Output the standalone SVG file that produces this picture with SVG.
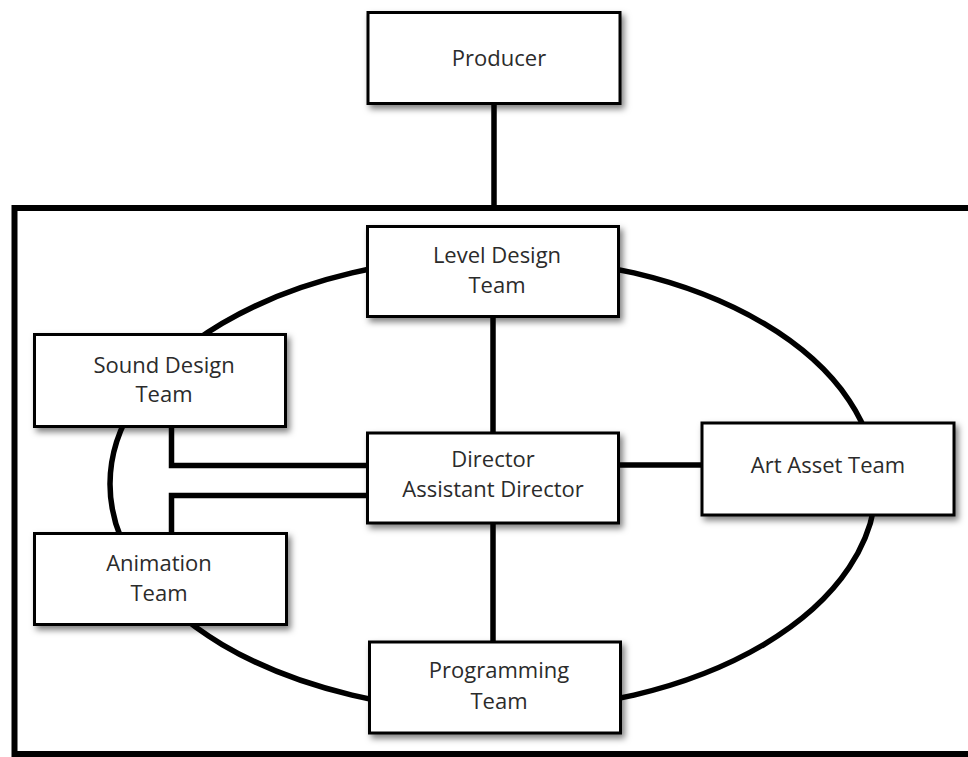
<svg xmlns="http://www.w3.org/2000/svg" width="968" height="757" viewBox="0 0 968 757">
<defs>
<filter id="sh" x="-10%" y="-10%" width="130%" height="140%">
<feDropShadow dx="3" dy="4" stdDeviation="3" flood-color="#000" flood-opacity="0.5"/>
</filter>
</defs>
<style>
.box{fill:#fff;stroke:#000;stroke-width:3;filter:url(#sh)}
.ln{fill:none;stroke:#000;stroke-width:5.5}
.t{font-family:"Open Sans","Noto Sans",sans-serif;font-size:22px;fill:#2b2b2b;text-anchor:middle}
</style>
<rect width="968" height="757" fill="#fff"/>
<g id="frame">
<rect x="14.5" y="208" width="1000" height="546" fill="none" stroke="#000" stroke-width="6"/>
</g>
<g id="connectors">
<ellipse cx="493" cy="484" rx="383" ry="227" class="ln" stroke-width="5"/>
<line x1="494" y1="103" x2="494" y2="207" class="ln"/>
<line x1="493" y1="317" x2="493" y2="433" class="ln"/>
<line x1="493" y1="523" x2="493" y2="642" class="ln"/>
<line x1="619" y1="465" x2="702" y2="465" class="ln"/>
<path d="M171.5,427 V465.5 H367" class="ln"/>
<path d="M171.5,533 V495.5 H367" class="ln"/>
</g>
<g id="producer">
<rect x="368" y="12.5" width="252" height="91" class="box"/>
<text x="499" y="66" class="t">Producer</text>
</g>
<g id="level-design">
<rect x="367.5" y="226.5" width="251" height="90" class="box"/>
<text x="497" y="263" class="t">Level Design</text>
<text x="497" y="293" class="t">Team</text>
</g>
<g id="sound-design">
<rect x="34.5" y="334.5" width="251" height="92" class="box"/>
<text x="164" y="373" class="t">Sound Design</text>
<text x="164" y="402" class="t">Team</text>
</g>
<g id="director">
<rect x="367.5" y="433" width="251" height="90" class="box"/>
<text x="493" y="467" class="t">Director</text>
<text x="493" y="497" class="t">Assistant Director</text>
</g>
<g id="art-asset">
<rect x="702" y="423" width="252" height="92" class="box"/>
<text x="828" y="473" class="t">Art Asset Team</text>
</g>
<g id="animation">
<rect x="34.5" y="533.5" width="252" height="91" class="box"/>
<text x="159" y="571" class="t">Animation</text>
<text x="159" y="601" class="t">Team</text>
</g>
<g id="programming">
<rect x="369.5" y="642" width="251" height="91" class="box"/>
<text x="499" y="678" class="t">Programming</text>
<text x="499" y="709" class="t">Team</text>
</g>
</svg>
